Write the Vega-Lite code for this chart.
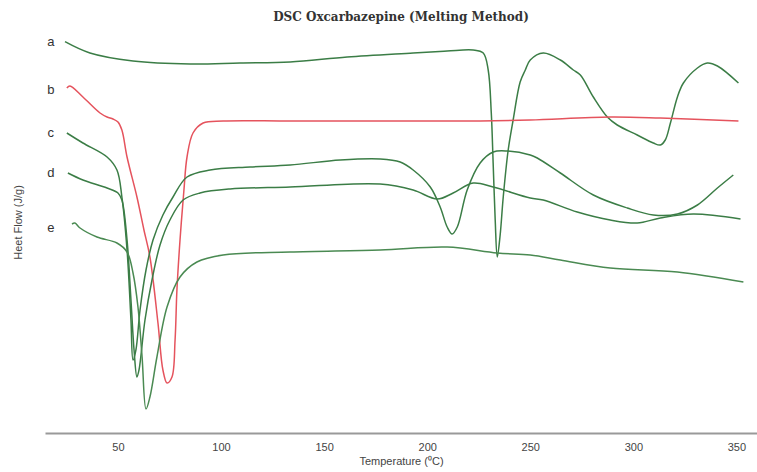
{
  "$schema": "https://vega.github.io/schema/vega-lite/v6.json",
  "width": 712,
  "height": 403,
  "autosize": {"type": "none"},
  "padding": {"left": 45, "top": 30, "right": 0, "bottom": 39},
  "background": "white",
  "config": {"view": {"stroke": null}},
  "title": {"text": "DSC Oxcarbazepine (Melting Method)", "font": "DejaVu Serif", "fontSize": 12, "fontWeight": "bold", "color": "#333333", "offset": 6},
  "datasets": {
    "curves": [
      {"s": "a", "T": 24.3, "py": 41.7}, {"s": "a", "T": 36.4, "py": 53}, {"s": "a", "T": 57.3, "py": 61}, {"s": "a", "T": 85, "py": 64}, {"s": "a", "T": 109.2, "py": 63}, {"s": "a", "T": 133.5, "py": 62}, {"s": "a", "T": 161.2, "py": 57}, {"s": "a", "T": 193.2, "py": 53}, {"s": "a", "T": 209.7, "py": 51}, {"s": "a", "T": 222.3, "py": 50}, {"s": "a", "T": 227.2, "py": 53}, {"s": "a", "T": 229.6, "py": 70}, {"s": "a", "T": 231.1, "py": 113}, {"s": "a", "T": 232, "py": 163}, {"s": "a", "T": 233, "py": 220}, {"s": "a", "T": 234, "py": 257}, {"s": "a", "T": 235.4, "py": 235}, {"s": "a", "T": 236.9, "py": 197}, {"s": "a", "T": 239.3, "py": 150}, {"s": "a", "T": 241.7, "py": 120}, {"s": "a", "T": 245.1, "py": 82}, {"s": "a", "T": 247.6, "py": 70}, {"s": "a", "T": 250, "py": 60}, {"s": "a", "T": 256.3, "py": 53}, {"s": "a", "T": 264.6, "py": 60}, {"s": "a", "T": 270.9, "py": 70}, {"s": "a", "T": 274.3, "py": 75}, {"s": "a", "T": 280.6, "py": 97}, {"s": "a", "T": 287.4, "py": 117}, {"s": "a", "T": 292.2, "py": 125}, {"s": "a", "T": 301.9, "py": 135}, {"s": "a", "T": 309.7, "py": 143}, {"s": "a", "T": 313.1, "py": 145}, {"s": "a", "T": 315.5, "py": 140}, {"s": "a", "T": 318, "py": 123}, {"s": "a", "T": 321.4, "py": 97}, {"s": "a", "T": 324.3, "py": 83}, {"s": "a", "T": 331.1, "py": 68}, {"s": "a", "T": 335.9, "py": 63}, {"s": "a", "T": 340.8, "py": 66}, {"s": "a", "T": 351, "py": 83},
      {"s": "b", "T": 25.2, "py": 88}, {"s": "b", "T": 26.7, "py": 86}, {"s": "b", "T": 33, "py": 97}, {"s": "b", "T": 41.3, "py": 113}, {"s": "b", "T": 44.7, "py": 117}, {"s": "b", "T": 47.6, "py": 119}, {"s": "b", "T": 50, "py": 122}, {"s": "b", "T": 51.9, "py": 130}, {"s": "b", "T": 54.4, "py": 157}, {"s": "b", "T": 59.2, "py": 197}, {"s": "b", "T": 62.6, "py": 230}, {"s": "b", "T": 65.5, "py": 257}, {"s": "b", "T": 69.4, "py": 323}, {"s": "b", "T": 71.8, "py": 370}, {"s": "b", "T": 73.8, "py": 383}, {"s": "b", "T": 76.2, "py": 377}, {"s": "b", "T": 77.7, "py": 340}, {"s": "b", "T": 78.6, "py": 290}, {"s": "b", "T": 80.1, "py": 240}, {"s": "b", "T": 82, "py": 190}, {"s": "b", "T": 83.5, "py": 157}, {"s": "b", "T": 86.4, "py": 133}, {"s": "b", "T": 91.3, "py": 123}, {"s": "b", "T": 101, "py": 121}, {"s": "b", "T": 133.5, "py": 121}, {"s": "b", "T": 186.9, "py": 121}, {"s": "b", "T": 225.7, "py": 121}, {"s": "b", "T": 250, "py": 120}, {"s": "b", "T": 288.8, "py": 117}, {"s": "b", "T": 313.1, "py": 118}, {"s": "b", "T": 351, "py": 121},
      {"s": "c", "T": 25.2, "py": 133}, {"s": "c", "T": 33, "py": 143}, {"s": "c", "T": 44.7, "py": 157}, {"s": "c", "T": 49.5, "py": 170}, {"s": "c", "T": 51.9, "py": 197}, {"s": "c", "T": 54.4, "py": 250}, {"s": "c", "T": 56.3, "py": 320}, {"s": "c", "T": 57.3, "py": 360}, {"s": "c", "T": 58.7, "py": 350}, {"s": "c", "T": 60.7, "py": 310}, {"s": "c", "T": 63.6, "py": 270}, {"s": "c", "T": 67, "py": 240}, {"s": "c", "T": 71.8, "py": 215}, {"s": "c", "T": 76.7, "py": 197}, {"s": "c", "T": 83.5, "py": 177}, {"s": "c", "T": 94.7, "py": 170}, {"s": "c", "T": 114.1, "py": 167}, {"s": "c", "T": 133.5, "py": 165}, {"s": "c", "T": 157.8, "py": 160}, {"s": "c", "T": 177.2, "py": 159}, {"s": "c", "T": 186.9, "py": 162}, {"s": "c", "T": 193.2, "py": 170}, {"s": "c", "T": 201.5, "py": 187}, {"s": "c", "T": 206.3, "py": 207}, {"s": "c", "T": 209.7, "py": 227}, {"s": "c", "T": 212.1, "py": 234}, {"s": "c", "T": 214.6, "py": 227}, {"s": "c", "T": 219.4, "py": 190}, {"s": "c", "T": 225.7, "py": 163}, {"s": "c", "T": 232, "py": 152}, {"s": "c", "T": 238.8, "py": 151}, {"s": "c", "T": 250, "py": 155}, {"s": "c", "T": 253.4, "py": 158}, {"s": "c", "T": 264.6, "py": 173}, {"s": "c", "T": 280.6, "py": 195}, {"s": "c", "T": 297.1, "py": 208}, {"s": "c", "T": 309.7, "py": 215}, {"s": "c", "T": 321.4, "py": 214}, {"s": "c", "T": 331.1, "py": 205}, {"s": "c", "T": 340.8, "py": 188}, {"s": "c", "T": 348.5, "py": 175},
      {"s": "d", "T": 25.7, "py": 173}, {"s": "d", "T": 33, "py": 180}, {"s": "d", "T": 44.7, "py": 188}, {"s": "d", "T": 50, "py": 193}, {"s": "d", "T": 51.9, "py": 200}, {"s": "d", "T": 54.4, "py": 240}, {"s": "d", "T": 56.3, "py": 300}, {"s": "d", "T": 57.8, "py": 350}, {"s": "d", "T": 59.2, "py": 377}, {"s": "d", "T": 60.2, "py": 370}, {"s": "d", "T": 63.1, "py": 320}, {"s": "d", "T": 66.5, "py": 280}, {"s": "d", "T": 70.4, "py": 245}, {"s": "d", "T": 75.2, "py": 220}, {"s": "d", "T": 81.6, "py": 200}, {"s": "d", "T": 89.8, "py": 193}, {"s": "d", "T": 104.4, "py": 189}, {"s": "d", "T": 133.5, "py": 187}, {"s": "d", "T": 177.2, "py": 184}, {"s": "d", "T": 193.2, "py": 190}, {"s": "d", "T": 204.9, "py": 199}, {"s": "d", "T": 212.6, "py": 193}, {"s": "d", "T": 222.3, "py": 183}, {"s": "d", "T": 232, "py": 187}, {"s": "d", "T": 250, "py": 198}, {"s": "d", "T": 256.3, "py": 200}, {"s": "d", "T": 272.8, "py": 212}, {"s": "d", "T": 288.8, "py": 220}, {"s": "d", "T": 301.9, "py": 223}, {"s": "d", "T": 313.1, "py": 218}, {"s": "d", "T": 329.1, "py": 214}, {"s": "d", "T": 352, "py": 219},
      {"s": "e", "T": 27.7, "py": 224}, {"s": "e", "T": 29.1, "py": 223}, {"s": "e", "T": 31.6, "py": 228}, {"s": "e", "T": 39.8, "py": 237}, {"s": "e", "T": 49.5, "py": 243}, {"s": "e", "T": 54.4, "py": 252}, {"s": "e", "T": 57.3, "py": 273}, {"s": "e", "T": 59.7, "py": 307}, {"s": "e", "T": 61.7, "py": 357}, {"s": "e", "T": 63.6, "py": 409}, {"s": "e", "T": 65.5, "py": 397}, {"s": "e", "T": 68.9, "py": 357}, {"s": "e", "T": 73.8, "py": 307}, {"s": "e", "T": 80.1, "py": 277}, {"s": "e", "T": 88.3, "py": 262}, {"s": "e", "T": 101, "py": 255}, {"s": "e", "T": 133.5, "py": 252}, {"s": "e", "T": 177.2, "py": 250}, {"s": "e", "T": 209.7, "py": 247}, {"s": "e", "T": 234, "py": 253}, {"s": "e", "T": 250, "py": 255}, {"s": "e", "T": 264.6, "py": 260}, {"s": "e", "T": 288.8, "py": 268}, {"s": "e", "T": 321.4, "py": 272}, {"s": "e", "T": 353.4, "py": 282}
    ],
    "labels": [
      {"s": "a", "T": 17.4, "py": 42},
      {"s": "b", "T": 17.4, "py": 90},
      {"s": "c", "T": 17.4, "py": 133},
      {"s": "d", "T": 17.4, "py": 173},
      {"s": "e", "T": 17.4, "py": 228}
    ]
  },
  "encoding": {
    "x": {"field": "T", "type": "quantitative", "scale": {"domain": [14.6, 360], "nice": false, "zero": false},
      "axis": {"title": "Temperature (⁰C)", "values": [50, 100, 150, 200, 250, 300, 350], "grid": false, "ticks": false, "domainColor": "#999999", "domainWidth": 2, "labelFont": "Liberation Sans", "labelFontSize": 11, "labelColor": "#444444", "labelPadding": 8, "titleFont": "Liberation Sans", "titleFontSize": 11, "titleFontWeight": "normal", "titleColor": "#444444", "titlePadding": 3}},
    "y": {"field": "py", "type": "quantitative", "scale": {"domain": [30, 433], "reverse": true, "nice": false, "zero": false},
      "axis": {"title": "Heet Flow (J/g)", "domain": false, "ticks": false, "labels": false, "grid": false, "titleFont": "Liberation Sans", "titleFontSize": 11, "titleFontWeight": "normal", "titleColor": "#444444", "titleX": -27, "titleY": 192, "titleAngle": -90, "titleBaseline": "middle"}}
  },
  "layer": [
    {
      "data": {"name": "curves"},
      "mark": {"type": "line", "interpolate": "catmull-rom", "strokeWidth": 1.5},
      "encoding": {
        "color": {"field": "s", "type": "nominal", "scale": {"domain": ["a", "b", "c", "d", "e"], "range": ["#3b7d46", "#e5535d", "#3b7d46", "#3b7d46", "#4a8a52"]}, "legend": null}
      }
    },
    {
      "data": {"name": "labels"},
      "mark": {"type": "text", "font": "Liberation Sans", "fontSize": 13, "color": "#333333", "align": "center", "baseline": "middle"},
      "encoding": {"text": {"field": "s"}}
    }
  ]
}
